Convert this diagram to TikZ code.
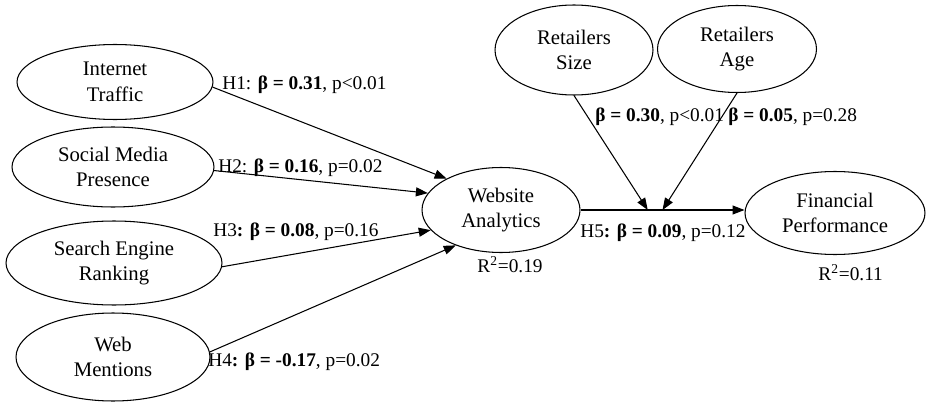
\documentclass[tikz,border=0pt]{standalone}
\usepackage{fontspec}
\setmainfont{Liberation Serif}
\usetikzlibrary{arrows.meta, shapes.geometric, calc}

\begin{document}
\begin{tikzpicture}[
    x=0.02cm, y=-0.02cm,
    font=\fontsize{11}{14}\selectfont,
    construct/.style={ellipse, draw, line width=0.6pt, inner sep=0pt, align=center, font=\fontsize{11.8}{14.5}\selectfont},
    arrow/.style={-{Triangle[length=0.24cm, width=0.18cm]}, line width=0.6pt},
    lbl/.style={anchor=base west, inner sep=0pt}
  ]
    \useasboundingbox (0,0) rectangle (946,402);

    \node[construct, minimum width=3.92cm, minimum height=1.5cm] (it) at (115,82) {Internet\\Traffic};
    \node[construct, minimum width=4.04cm, minimum height=1.6cm] (smp) at (113,167) {Social Media\\Presence};
    \node[construct, minimum width=4.32cm, minimum height=1.68cm] (ser) at (114,263) {Search Engine\\Ranking};
    \node[construct, minimum width=3.88cm, minimum height=1.76cm] (wm) at (113,357) {Web\\Mentions};
    \node[construct, minimum width=3.16cm, minimum height=1.7cm] (wa) at (501,210) {Website\\Analytics};
    \node[construct, minimum width=3.6cm, minimum height=1.66cm] (fp) at (835,213) {Financial\\Performance};
    \node[construct, minimum width=3.16cm, minimum height=1.8cm] (rs) at (574,50) {Retailers\\Size};
    \node[construct, minimum width=3.18cm, minimum height=1.74cm] (ra) at (737,49) {Retailers\\Age};

    \draw[arrow] (it.-3) -- (wa.150);
    \draw[arrow] (smp.-2) -- (wa.167);
    \draw[arrow] (ser.-2) -- (wa.196);
    \draw[arrow] (wm.3) -- (wa.218);
    \draw[arrow] (wa.east) -- (wa.east -| fp.west)
      coordinate[pos=0.41] (ms) coordinate[pos=0.5] (ma);
    \draw[arrow] (rs.south) -- (ms);
    \draw[arrow] (ra.south) -- (ma);

    \node[lbl] (h1) at (222,90) {H1: \textbf{β = 0.31}, p<0.01};
    \node[lbl] (h2) at (218,172) {H2: \textbf{β = 0.16}, p=0.02};
    \node[lbl] (h3) at (213,236) {H3\textbf{: β = 0.08}, p=0.16};
    \node[lbl] (h4) at (208,366) {H4\textbf{: β = -0.17}, p=0.02};
    \node[lbl] (h5) at (580,237) {H5\textbf{: β = 0.09}, p=0.12};
    \node[lbl] (ls) at (595,121) {\textbf{β = 0.30}, p<0.01};
    \node[lbl] (la) at (728,121) {\textbf{β = 0.05}, p=0.28};
    \node[lbl] (r1) at (477,272) {R\textsuperscript{2}=0.19};
    \node[lbl] (r2) at (818,280) {R\textsuperscript{2}=0.11};
\end{tikzpicture}
\end{document}
